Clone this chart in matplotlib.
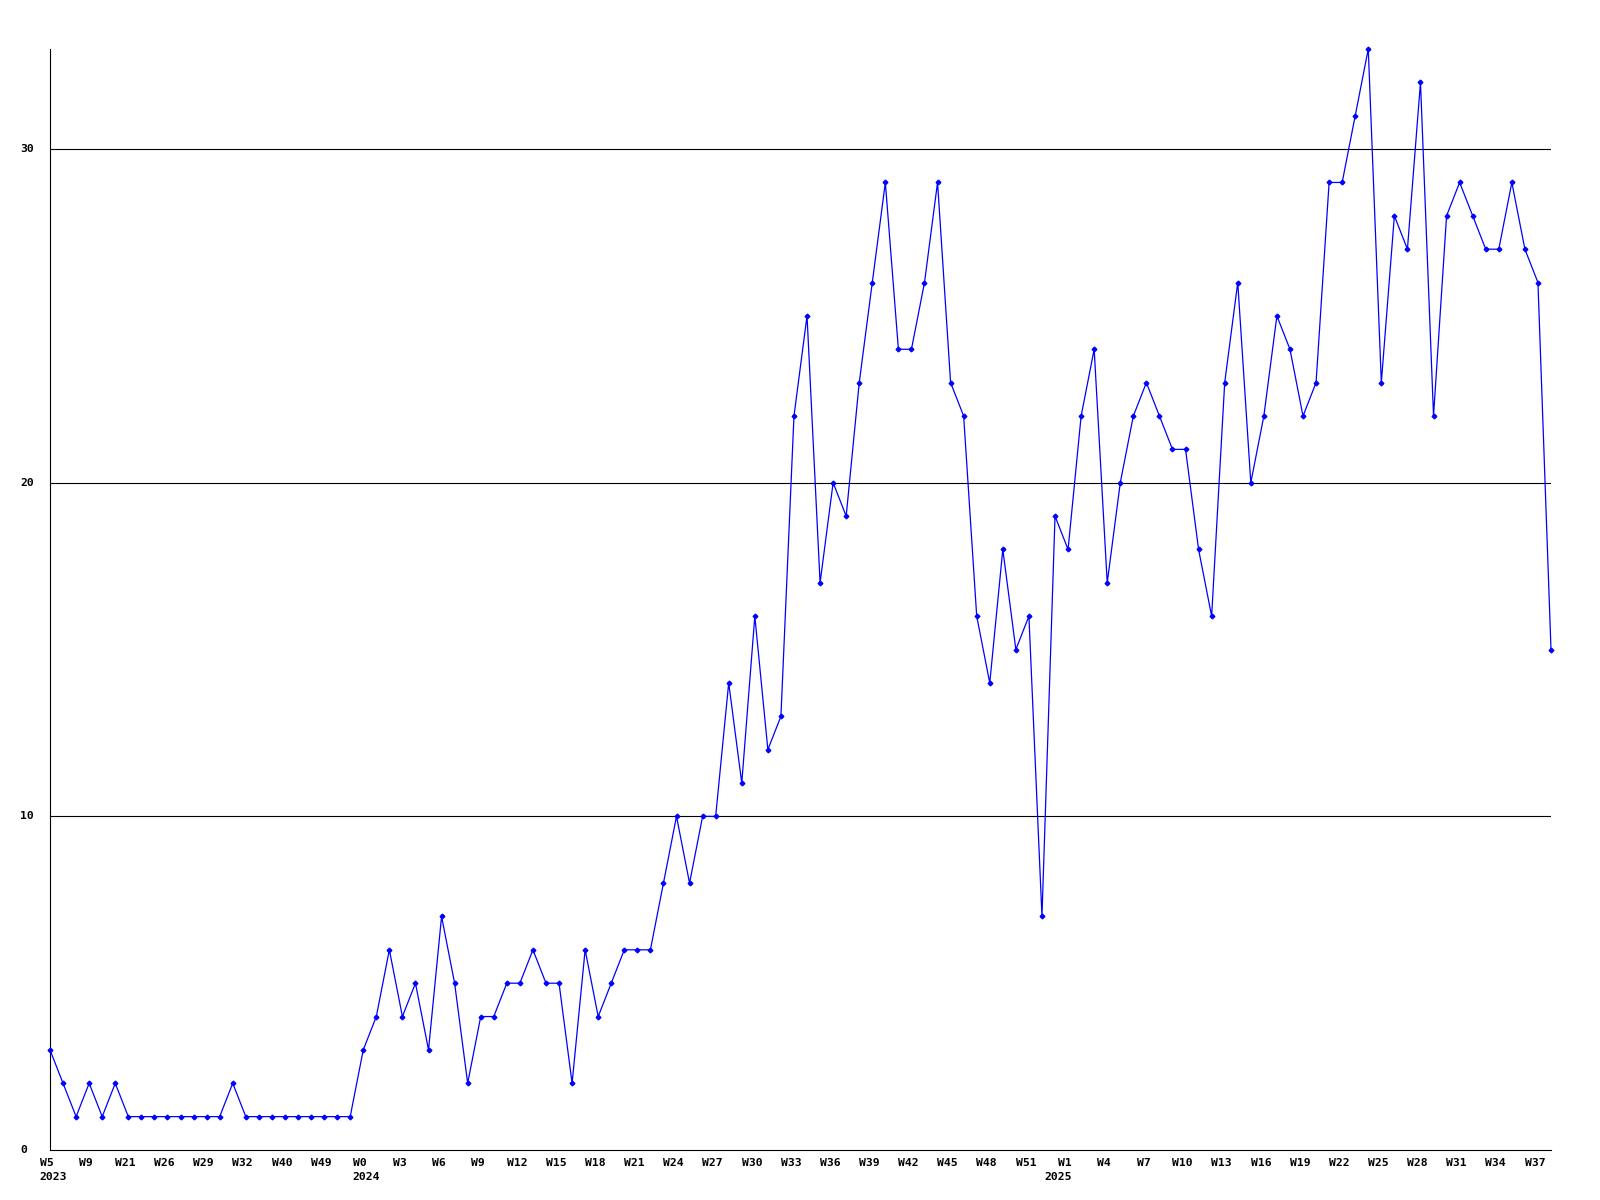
import matplotlib
matplotlib.use("Agg")
import matplotlib.pyplot as plt
from matplotlib.transforms import offset_copy, blended_transform_factory

# ---- data ----
values_2023 = [3, 2, 1, 2, 1, 2, 1, 1, 1, 1, 1, 1, 1, 1, 2, 1, 1, 1, 1, 1, 1, 1, 1, 1]
values_2024 = [3, 4, 6, 4, 5, 3, 7, 5, 2, 4, 4, 5, 5, 6, 5, 5, 2, 6, 4, 5, 6, 6, 6, 8,
               10, 8, 10, 10, 14, 11, 16, 12, 13, 22, 25, 17, 20, 19, 23, 26, 29, 24,
               24, 26, 29, 23, 22, 16, 14, 18, 15, 16, 7]
values_2025 = [19, 18, 22, 24, 17, 20, 22, 23, 22, 21, 21, 18, 16, 23, 26, 20, 22, 25,
               24, 22, 23, 29, 29, 31, 33, 23, 28, 27, 32, 22, 28, 29, 28, 27, 27, 29,
               27, 26, 15]
tick_labels = ["W5", "W9", "W21", "W26", "W29", "W32", "W40", "W49",
               "W0", "W3", "W6", "W9", "W12", "W15", "W18", "W21", "W24", "W27",
               "W30", "W33", "W36", "W39", "W42", "W45", "W48", "W51",
               "W1", "W4", "W7", "W10", "W13", "W16", "W19", "W22", "W25", "W28",
               "W31", "W34", "W37"]
years = ["2023", "2024", "2025"]
y_ticks = [0, 10, 20, 30]

values = values_2023 + values_2024 + values_2025
x = list(range(len(values)))
year_starts = [0, len(values_2023), len(values_2023) + len(values_2024)]
tick_pos = list(range(0, len(values), 3))[:len(tick_labels)]

# ---- figure ----
fig = plt.figure(figsize=(16, 12), dpi=100)
ax = fig.add_axes([50 / 1600, 1 - 1150 / 1200, 1501 / 1600, 1101 / 1200])
ax.set_xlim(0, len(values) - 1)
ax.set_ylim(0, 33)

for yv in y_ticks[1:]:
    ax.axhline(yv, color="black", lw=0.8, zorder=1)

ax.plot(x, values, color="#0000ff", lw=0.9, marker="D", markersize=2.4,
        markerfacecolor="#0000ff", markeredgecolor="#0000ff", zorder=3,
        clip_on=False)

for s in ["top", "right"]:
    ax.spines[s].set_visible(False)
for s in ["left", "bottom"]:
    ax.spines[s].set_linewidth(0.8)
    ax.spines[s].set_color("black")
ax.set_xticks([])
ax.set_yticks([])

font = dict(family="DejaVu Sans Mono", fontweight="bold", fontsize=8.2, color="black")

trans_x = blended_transform_factory(ax.transData, ax.transAxes)
row1 = offset_copy(trans_x, fig=fig, x=-3, y=-13, units="dots")
row2 = offset_copy(trans_x, fig=fig, x=3, y=-27, units="dots")
for p, lab in zip(tick_pos, tick_labels):
    ax.text(p, 0, lab, transform=row1, ha="center", va="center", **font)
for p, yr in zip(year_starts, years):
    ax.text(p, 0, yr, transform=row2, ha="center", va="center", **font)

trans_y = blended_transform_factory(fig.transFigure, ax.transData)
for yv in y_ticks:
    ax.text(20 / 1600, yv, str(yv), transform=trans_y, ha="left", va="center",
            clip_on=False, **font)

fig.savefig("out.png", dpi=100, facecolor="white")
